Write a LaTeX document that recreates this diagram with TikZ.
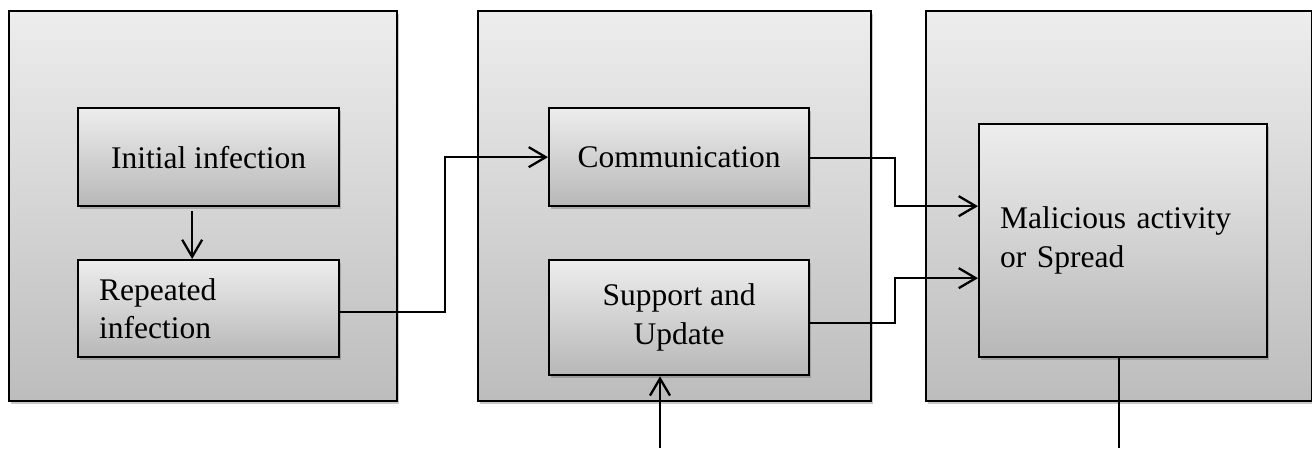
\documentclass[tikz,border=0pt]{standalone}
\usepackage{fontspec}
\setmainfont{Liberation Serif}
\usetikzlibrary{arrows.meta,shadows}
\begin{document}
\begin{tikzpicture}[x=1pt,y=-1pt,
  outerbox/.style={draw=black,line width=2.3pt,anchor=north west,inner sep=0pt,
    top color=black!7,bottom color=black!26,
    drop shadow={shadow xshift=2pt,shadow yshift=-3pt,opacity=0.3,fill=black!70}},
  innerbox/.style={draw=black,line width=2.3pt,anchor=north west,
    top color=black!7,bottom color=black!28,
    font=\fontsize{31.5}{38.5}\selectfont,
    drop shadow={shadow xshift=2pt,shadow yshift=-3pt,opacity=0.3,fill=black!70}},
  arr/.style={draw=black,line width=2.3pt,-{Straight Barb[length=17pt,width=20pt,line width=2.3pt]}},
  plainline/.style={draw=black,line width=1.6pt}]
\useasboundingbox (0,0) rectangle (1312,448);
% outer panels
\node[outerbox,minimum width=388pt,minimum height=390pt] (p1) at (8,10) {};
\node[outerbox,minimum width=393pt,minimum height=390pt] (p2) at (477,10) {};
\node[outerbox,minimum width=386pt,minimum height=390pt] (p3) at (925,10) {};
% inner boxes
\node[innerbox,minimum width=261pt,minimum height=98pt,inner sep=0pt,align=center] (init) at (77,107) {Initial infection};
\node[innerbox,minimum width=261pt,minimum height=97pt,inner xsep=21pt,inner ysep=0pt,text width=219pt,align=left] (rep) at (77,259) {Repeated\\infection};
\node[innerbox,minimum width=260pt,minimum height=98pt,inner sep=0pt,align=center] (comm) at (548,107) {Communication};
\node[innerbox,minimum width=260pt,minimum height=115pt,inner sep=0pt,align=center] (sup) at (548,259) {Support and\\Update};
\node[innerbox,minimum width=288pt,minimum height=233pt,inner xsep=21pt,inner ysep=0pt,text width=246pt,align=left] (mal) at (978,123) {Malicious activity\\or Spread};
% connectors
\draw[arr] ([xshift=-16.5pt,yshift=-4pt]init.south) -- ([xshift=-16.5pt]rep.north);
\draw[arr] ([yshift=-3.5pt]rep.east) -- ++(105,0) |- (comm.west);
\draw[arr] ([yshift=-1pt]comm.east) -- ++(85,0) |- ([yshift=34.5pt]mal.west);
\draw[arr] ([yshift=-5.5pt]sup.east) -- ++(85,0) |- ([yshift=-37.5pt]mal.west);
\coordinate (b1) at (660,448);
\coordinate (b2) at (1119,448);
\draw[arr] (b1) -- (b1 |- sup.south);
\draw[plainline] (mal.south -| b2) -- (b2);
\end{tikzpicture}
\end{document}
